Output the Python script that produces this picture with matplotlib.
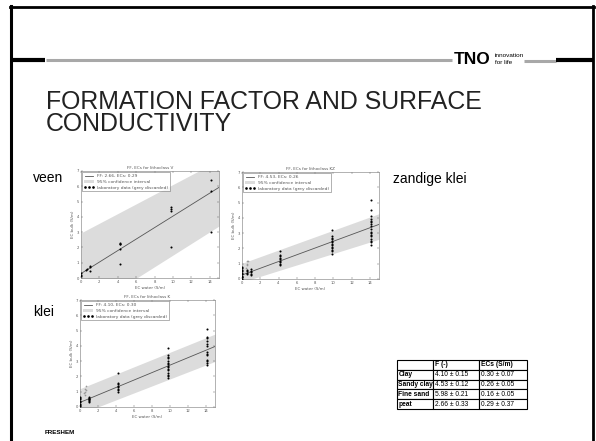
import matplotlib
matplotlib.use("Agg")
import matplotlib.pyplot as plt
from matplotlib.patches import Patch
from matplotlib.lines import Line2D

# ---- data ----
slide_title = "FORMATION FACTOR AND SURFACE\nCONDUCTIVITY"

# peat, lithoclass V
v_label = "FF: 2.66, ECs: 0.29"
v_ff, v_ecs = 2.66, 0.29
v_x = [0.05, 0.05, 0.05, 0.5, 0.6, 1.0, 1.0, 1.0, 4.2, 4.2, 4.2, 4.2, 4.2,
       9.8, 9.8, 9.8, 9.8, 14.1, 14.1, 14.1]
v_y = [0.1, 0.2, 0.3, 0.5, 0.6, 0.45, 0.7, 0.8, 0.9, 1.9, 2.2, 2.25, 2.3,
       2.0, 4.4, 4.5, 4.65, 3.0, 5.7, 6.4]
v_grey_x, v_grey_y = [], []
v_band_x = [0, 15]
v_band_lo = [-2.3, 3.4]
v_band_hi = [2.95, 7.7]

# sandy clay, lithoclass KZ
kz_label = "FF: 4.53, ECs: 0.26"
kz_ff, kz_ecs = 4.53, 0.26
kz_x = ([0.05] * 10 + [0.5] * 4 + [1.0] * 5 + [4.2] * 9 + [9.8] * 13 + [14.1] * 17)
kz_y = [0.0, 0.1, 0.15, 0.2, 0.3, 0.4, 0.5, 0.6, 0.7, 0.8,
        0.3, 0.4, 0.5, 0.6,
        0.25, 0.35, 0.45, 0.55, 0.65,
        0.9, 1.0, 1.1, 1.2, 1.3, 1.4, 1.5, 1.6, 1.8,
        1.65, 1.8, 1.9, 2.0, 2.1, 2.2, 2.3, 2.4, 2.5, 2.6, 2.7, 2.8, 3.2,
        2.25, 2.4, 2.5, 2.6, 2.8, 2.9, 3.0, 3.1, 3.3, 3.5, 3.6, 3.7, 3.8,
        3.9, 4.1, 4.5, 5.15]
kz_grey_x = [0.45, 0.5, 0.6, 0.55, 0.65]
kz_grey_y = [0.75, 0.9, 1.0, 1.15, 1.2]
kz_band_x = [0, 15]
kz_band_lo = [-0.2, 2.6]
kz_band_hi = [1.03, 4.27]

# clay, lithoclass K
k_label = "FF: 4.10, ECs: 0.30"
k_ff, k_ecs = 4.10, 0.30
k_x = ([0.05] * 8 + [1.0] * 7 + [4.2] * 8 + [9.8] * 15 + [14.1] * 13)
k_y = [0.05, 0.1, 0.2, 0.3, 0.4, 0.5, 0.6, 0.65,
       0.3, 0.4, 0.45, 0.5, 0.55, 0.6, 0.65,
       1.0, 1.1, 1.2, 1.3, 1.4, 1.5, 1.6, 2.2,
       1.9, 2.0, 2.1, 2.2, 2.4, 2.5, 2.6, 2.7, 2.8, 2.9, 3.0, 3.2, 3.3, 3.4, 3.85,
       2.75, 2.85, 3.0, 3.1, 3.4, 3.5, 3.6, 4.0, 4.1, 4.3, 4.5, 4.6, 5.1]
k_grey_x = [0.45, 0.5, 0.6, 0.55, 0.7, 0.65]
k_grey_y = [0.9, 0.8, 1.0, 1.15, 1.1, 1.4]
k_band_x = [0, 15]
k_band_lo = [-0.45, 2.98]
k_band_hi = [1.2, 4.77]

# summary table
table_cols = ["", "F (-)", "ECs (S/m)"]
table_rows = ["Clay", "Sandy clay", "Fine sand", "peat"]
table_f = ["4.10 \u00b1 0.15", "4.53 \u00b1 0.12", "5.98 \u00b1 0.21", "2.66 \u00b1 0.33"]
table_ecs = ["0.30 \u00b1 0.07", "0.26 \u00b1 0.05", "0.16 \u00b1 0.05", "0.29 \u00b1 0.37"]

W, H = 596, 441
fig = plt.figure(figsize=(W / 100, H / 100), dpi=100)
fig.patch.set_facecolor("white")

# slide background layer, in pixel coordinates
bg = fig.add_axes([0, 0, 1, 1])
bg.set_xlim(0, W)
bg.set_ylim(H, 0)
bg.axis("off")

# frame
bg.plot([11, 11], [6, H], color="black", lw=2.2)
bg.plot([592.5, 592.5], [6, H], color="black", lw=2.0)
bg.plot([10, 593.5], [6.5, 6.5], color="black", lw=2.0)

# header bar with logo
bg.plot([11, 45], [59.5, 59.5], color="black", lw=3.0, solid_capstyle="butt")
bg.plot([46, 452], [59.5, 59.5], color="#a8a8a8", lw=2.2, solid_capstyle="butt")
bg.text(454, 60, "TNO", fontsize=12.5, fontweight="heavy", family="Liberation Sans",
        ha="left", va="center", color="black")
bg.text(495, 55.5, "innovation", fontsize=4.6, family="Liberation Sans", ha="left", va="center")
bg.text(495, 62.5, "for life", fontsize=4.6, family="Liberation Sans", ha="left", va="center")
bg.plot([524, 556], [61, 61], color="#a8a8a8", lw=2.2, solid_capstyle="butt")
bg.plot([556, 593], [59.5, 59.5], color="black", lw=3.0, solid_capstyle="butt")

bg.text(46, 113, slide_title, fontsize=17.9, family="Liberation Sans", ha="left", va="center",
        linespacing=0.93, color="#222222")

bg.text(33, 178, "veen", fontsize=10, family="Liberation Sans", ha="left", va="center")
bg.text(393, 179, "zandige klei", fontsize=10, family="Liberation Sans", ha="left", va="center")
bg.text(33, 312, "klei", fontsize=10, family="Liberation Sans", ha="left", va="center")
bg.text(45, 432, "FRESHEM", fontsize=4.5, fontweight="bold", family="Liberation Sans",
        ha="left", va="center")

# table
cells = [table_cols] + [[r, f, e] for r, f, e in zip(table_rows, table_f, table_ecs)]
tab = bg.table(cellText=cells, cellLoc="left",
               bbox=[397 / W, 1 - 409 / H, 130 / W, 49 / H],
               colWidths=[36 / 130, 46 / 130, 48 / 130])
tab.auto_set_font_size(False)
for (r, c), cell in tab.get_celld().items():
    cell.set_linewidth(0.8)
    cell.set_edgecolor("black")
    cell.PAD = 0.04
    txt = cell.get_text()
    txt.set_fontsize(4.8)
    txt.set_family("Liberation Sans")
    if r == 0 or c == 0:
        txt.set_fontweight("bold")


def chart(rect, title, label, ff, ecs, xs, ys, gx, gy, bx, blo, bhi):
    ax = fig.add_axes(rect)
    ax.fill_between(bx, blo, bhi, color="#dcdcdc", lw=0, zorder=1)
    ax.plot([0, 15], [ecs, ecs + 15 / ff], color="#555555", lw=0.6, zorder=2)
    ax.scatter(gx, gy, s=1.5, color="#999999", zorder=3, lw=0)
    ax.scatter(xs, ys, s=2.2, color="black", zorder=4, lw=0)
    ax.set_xlim(0, 15)
    ax.set_ylim(0, 7)
    ax.set_xticks(range(0, 15, 2))
    ax.set_yticks(range(0, 8))
    ax.tick_params(direction="in", length=1.5, width=0.3, labelsize=2.7,
                   top=True, right=True, pad=1.2, colors="#555555")
    for s in ax.spines.values():
        s.set_linewidth(0.4)
        s.set_color("#777777")
    ax.set_title(title, fontsize=3.0, pad=1.5, color="#555555")
    ax.set_xlabel("EC water (S/m)", fontsize=2.9, labelpad=1.5, color="#555555")
    ax.set_ylabel("EC bulk (S/m)", fontsize=2.9, labelpad=1.5, color="#555555")
    handles = [Line2D([], [], color="#555555", lw=0.6),
               Patch(facecolor="#dcdcdc", edgecolor="none"),
               Line2D([], [], color="black", marker="o", ms=0.9, ls="none")]
    leg = ax.legend(handles, [label, "95% confidence interval",
                              "laboratory data (grey discarded)"],
                    loc="upper left", fontsize=3.2, frameon=True, fancybox=False,
                    numpoints=3, handlelength=2.2, borderpad=0.4, labelspacing=0.35,
                    borderaxespad=0.3, handletextpad=0.8)
    leg.get_frame().set_linewidth(0.4)
    leg.get_frame().set_edgecolor("#555555")
    for t in leg.get_texts():
        t.set_color("#555555")
    return ax


chart([81 / W, 1 - 278 / H, 138 / W, 107 / H], "FF, ECs for lithoclass V", v_label,
      v_ff, v_ecs, v_x, v_y, v_grey_x, v_grey_y, v_band_x, v_band_lo, v_band_hi)
chart([242 / W, 1 - 279 / H, 137 / W, 107 / H], "FF, ECs for lithoclass KZ", kz_label,
      kz_ff, kz_ecs, kz_x, kz_y, kz_grey_x, kz_grey_y, kz_band_x, kz_band_lo, kz_band_hi)
chart([80 / W, 1 - 407 / H, 135 / W, 107 / H], "FF, ECs for lithoclass K", k_label,
      k_ff, k_ecs, k_x, k_y, k_grey_x, k_grey_y, k_band_x, k_band_lo, k_band_hi)

fig.savefig("out.png", dpi=100)
